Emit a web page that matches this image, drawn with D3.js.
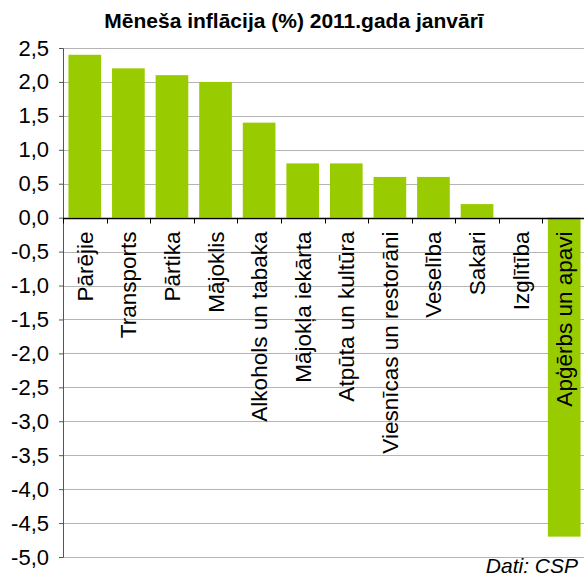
<!DOCTYPE html>
<html>
<head>
<meta charset="utf-8">
<script src="https://cdn.jsdelivr.net/npm/d3@7"></script>
<style>
  body { margin: 0; background: #fff; }
  text { font-family: "Liberation Sans", Arial, sans-serif; }
</style>
</head>
<body>
<div id="chart"></div>
<script>
const categories = ['Pārējie', 'Transports', 'Pārtika', 'Mājoklis', 'Alkohols un tabaka', 'Mājokļa iekārta',
  'Atpūta un kultūra', 'Viesnīcas un restorāni', 'Veselība', 'Sakari', 'Izglītība', 'Apģērbs un apavi']
const values = [2.4, 2.2, 2.1, 2.0, 1.4, 0.8, 0.8, 0.6, 0.6, 0.2, 0, -4.7]
const yTicks = [2.5, 2.0, 1.5, 1.0, 0.5, 0, -0.5, -1.0, -1.5, -2.0, -2.5, -3.0, -3.5, -4.0, -4.5, -5.0]

const width = 584
const height = 576
const left = 63
const right = 586

const svg = d3.select('#chart')
  .append('svg')
  .attr('width', width)
  .attr('height', height)

const x = d3.scaleBand()
  .domain(categories)
  .range([left, right])
  .paddingInner(0.25)
  .paddingOuter(0.125)

const y = d3.scaleLinear()
  .domain([-5, 2.5])
  .range([557, 48])

// gridlines
svg.append('g')
  .selectAll('line')
  .data(yTicks)
  .enter()
  .append('line')
  .attr('x1', left)
  .attr('x2', width)
  .attr('y1', d => Math.round(y(d)) + 0.5)
  .attr('y2', d => Math.round(y(d)) + 0.5)
  .attr('stroke', '#b4b4b4')
  .attr('stroke-width', 1)

// bars
svg.append('g')
  .selectAll('rect')
  .data(values)
  .enter()
  .append('rect')
  .attr('x', (_, i) => x(categories[i]))
  .attr('y', d => y(Math.max(0, d)))
  .attr('width', x.bandwidth())
  .attr('height', d => Math.abs(y(d) - y(0)))
  .attr('fill', '#99cc00')

// y axis
const yAxis = d3.axisLeft(y)
  .tickValues(yTicks)
  .tickSize(4)
  .tickPadding(10)
  .tickFormat(d => d3.format('.1f')(d).replace('.', ',').replace('−', '-'))

const gy = svg.append('g')
  .attr('transform', `translate(${left},0)`)
  .call(yAxis)
gy.select('.domain').attr('stroke', '#555')
gy.selectAll('.tick line').attr('stroke', '#555')
gy.selectAll('.tick text')
  .style('font-size', '22px')
  .attr('fill', '#000')

// x axis at zero
const y0 = Math.round(y(0)) + 0.5
svg.append('line')
  .attr('x1', left)
  .attr('x2', width)
  .attr('y1', y0)
  .attr('y2', y0)
  .attr('stroke', '#000')
  .attr('stroke-width', 1.5)

const step = x.step()
svg.append('g')
  .selectAll('line')
  .data(d3.range(0, categories.length + 1))
  .enter()
  .append('line')
  .attr('x1', i => Math.round(left + i * step) + 0.5)
  .attr('x2', i => Math.round(left + i * step) + 0.5)
  .attr('y1', y0)
  .attr('y2', y0 + 5)
  .attr('stroke', '#000')

// category labels
svg.append('g')
  .selectAll('text')
  .data(categories)
  .enter()
  .append('text')
  .attr('transform', d => `translate(${x(d) + x.bandwidth() / 2 + 8},${y0 + 13}) rotate(-90)`)
  .attr('text-anchor', 'end')
  .style('font-size', '22.5px')
  .text(d => d)

// title
svg.append('text')
  .attr('x', 294)
  .attr('y', 28)
  .attr('text-anchor', 'middle')
  .style('font', 'bold 21px "Liberation Sans", Arial, sans-serif')
  .text('Mēneša inflācija (%) 2011.gada janvārī')

// source
svg.append('text')
  .attr('x', 578)
  .attr('y', 573)
  .attr('text-anchor', 'end')
  .style('font', 'italic 21px "Liberation Sans", Arial, sans-serif')
  .text('Dati: CSP')
</script>
</body>
</html>
